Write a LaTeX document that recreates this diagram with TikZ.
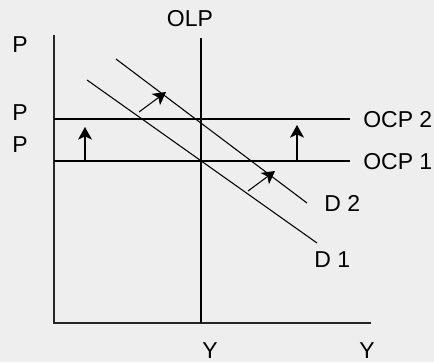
\documentclass[tikz,border=0pt]{standalone}
\usepackage{fontspec}
\setmainfont{Liberation Sans}
\usetikzlibrary{arrows.meta,positioning}
\definecolor{panel}{RGB}{238,238,238}

\begin{document}
\begin{tikzpicture}[
x=0.75pt, y=-0.75pt,
axis/.style={line width=0.9pt, black!85},
curve/.style={line width=0.8pt},
shiftarrow/.style={-{Stealth[length=9.5pt,width=10.5pt,inset=2.5pt]}, line width=0.8pt},
lab/.style={font=\fontsize{17.25}{20}\selectfont, inner sep=0pt}
]
\fill[panel] (0,0) rectangle (434,362);
\useasboundingbox (0,0) rectangle (434,362);

% axes
\coordinate (top) at (54,35);
\coordinate (origin) at (54,323);
\coordinate (xend) at (371,323);
\draw[axis] (top) -- (origin) -- (xend);

% long-run and short-run lines
\coordinate (olptop) at (201,38);
\coordinate (olpbot) at (201,323);
\coordinate (ocp2a) at (54,119);
\coordinate (ocp2b) at (350,119);
\coordinate (ocp1a) at (54,161);
\coordinate (ocp1b) at (350,161);
\draw[curve] (olptop) -- (olpbot);
\draw[curve] (ocp2a) -- (ocp2b);
\draw[curve] (ocp1a) -- (ocp1b);

% demand
\coordinate (d1a) at (87,80);
\coordinate (d1b) at (317,243);
\coordinate (d2a) at (116,59);
\coordinate (d2b) at (307,203);
\draw[curve] (d1a) -- (d1b);
\draw[curve] (d2a) -- (d2b);

% shifts
\coordinate (up1a) at (85,161);
\coordinate (up1b) at (85,127);
\coordinate (up2a) at (297,161);
\coordinate (up2b) at (297,125);
\coordinate (dg1a) at (139,112);
\coordinate (dg1b) at (166,92);
\coordinate (dg2a) at (248,191);
\coordinate (dg2b) at (275,171);
\draw[shiftarrow] (up1a) -- (up1b);
\draw[shiftarrow] (up2a) -- (up2b);
\draw[shiftarrow] (dg1a) -- (dg1b);
\draw[shiftarrow] (dg2a) -- (dg2b);

% labels
\node[lab] (ptop) at (20,45) {P};
\node[lab] (pocp2) at (20,113) {P};
\node[lab] (pocp1) at (20,145) {P};
\node[lab] (olplab) at (190,19) {OLP};
\node[lab, anchor=west] (ocp2lab) at (363,120) {OCP 2};
\node[lab, anchor=west] (ocp1lab) at (363,162) {OCP 1};
\node[lab, anchor=west] (dtwo) at (324,203) {D 2};
\node[lab, anchor=west] (done) at (314,260) {D 1};
\node[lab] (yolp) at (210,351) {Y};
\node[lab] (ymax) at (367,351) {Y};
\end{tikzpicture}
\end{document}
